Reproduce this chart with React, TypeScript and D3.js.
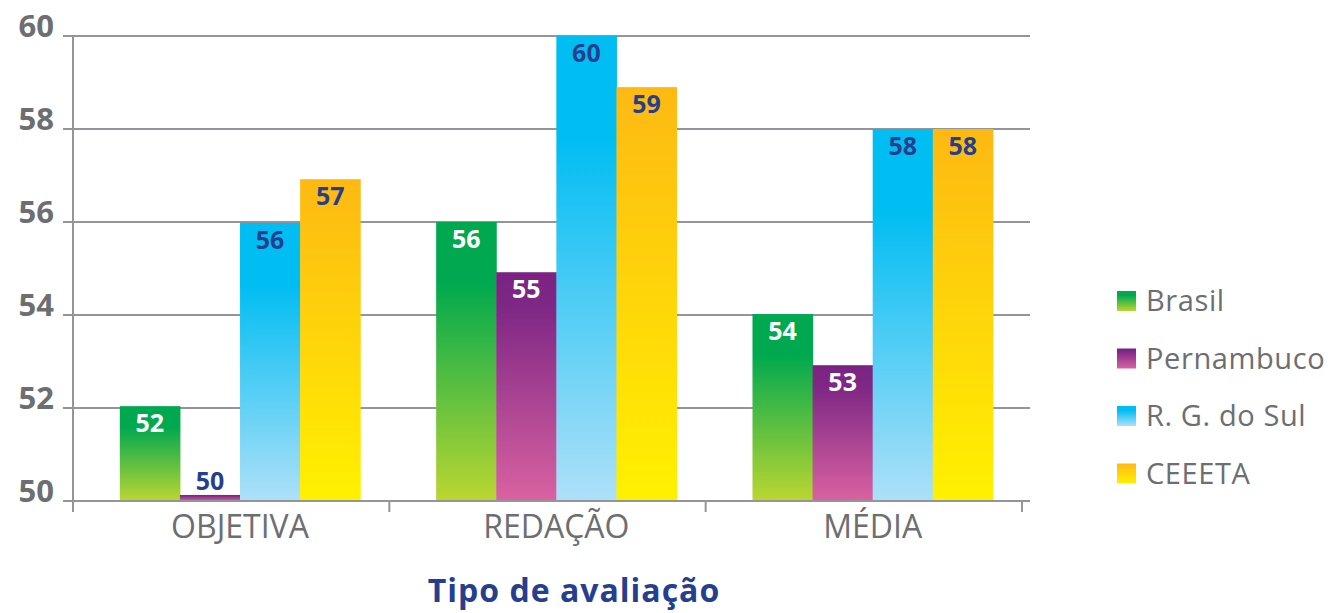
import React from "react";
import * as d3 from "d3";

const categories = ["OBJETIVA", "REDAÇÃO", "MÉDIA"];
const seriesNames = ["Brasil", "Pernambuco", "R. G. do Sul", "CEEETA"];
const brasil = [52.04, 56.0, 54.02];
const pernambuco = [50.13, 54.92, 52.92];
const rgSul = [55.98, 60.0, 58.0];
const ceeeta = [56.92, 58.9, 58.0];
const seriesValues = [brasil, pernambuco, rgSul, ceeeta];
const yTicks = [50, 52, 54, 56, 58, 60];
const axisTitle = "Tipo de avaliação";

const gradients = [
  { id: "g-brasil", stops: [["0%", "#00a94f"], ["22%", "#00a94f"], ["100%", "#bcd631"]] },
  { id: "g-pern", stops: [["0%", "#7a2382"], ["15%", "#7e2785"], ["100%", "#d962a1"]] },
  { id: "g-rgs", stops: [["0%", "#00bdf2"], ["22%", "#00bdf2"], ["100%", "#aee0f8"]] },
  { id: "g-ceeeta", stops: [["0%", "#fdb913"], ["100%", "#fff100"]] },
];
const labelColors = ["#ffffff", "#ffffff", "#253f8e", "#253f8e"];

const W = 1335;
const H = 613;
const plotLeft = 73;
const plotRight = 1022;
const yTop = 36;
const yBottom = 501;
const font = "'Open Sans', sans-serif";
const gray = "#6d6e71";
const lineGray = "#939598";
const blue = "#253f8e";

export default function App() {
  const y = d3.scaleLinear().domain([50, 60]).range([yBottom, yTop]);
  const x0 = d3.scaleBand<string>().domain(categories).range([plotLeft, plotRight]).padding(0);
  const bw = x0.bandwidth();
  const x1 = d3
    .scaleBand<string>()
    .domain(seriesNames)
    .range([bw * 0.148, bw * 0.908])
    .padding(0);
  const fmt = d3.format(".0f");

  return (
    <svg
      width={W}
      height={H}
      style={{ position: "absolute", left: 0, top: 0, background: "#fff" }}
    >
      <defs>
        {gradients.map((g) => (
          <linearGradient key={g.id} id={g.id} x1="0" y1="0" x2="0" y2="1">
            {g.stops.map(([o, c], i) => (
              <stop key={i} offset={o} stopColor={c} />
            ))}
          </linearGradient>
        ))}
      </defs>

      {/* grid lines */}
      {yTicks.map((t) => (
        <line
          key={t}
          x1={63}
          x2={1030}
          y1={y(t)}
          y2={y(t)}
          stroke={lineGray}
          strokeWidth={2}
        />
      ))}
      {/* y tick labels */}
      {yTicks.map((t) => (
        <text
          key={"l" + t}
          x={54}
          y={y(t) + 1}
          textAnchor="end"
          fontFamily={font}
          fontWeight={700}
          fontSize={31}
          fill={gray}
        >
          {t}
        </text>
      ))}

      {/* bars */}
      {categories.map((c, ci) => (
        <g key={c} transform={`translate(${x0(c)},0)`}>
          {seriesNames.map((s, si) => {
            const v = seriesValues[si][ci];
            const bx = x1(s)!;
            const by = y(v);
            const bh = yBottom - by;
            const inside = bh > 30;
            return (
              <g key={s}>
                <rect
                  x={bx}
                  y={by}
                  width={x1.bandwidth() + 0.5}
                  height={bh}
                  fill={`url(#${gradients[si].id})`}
                />
                <text
                  x={bx + x1.bandwidth() / 2}
                  y={inside ? by + 26 : by - 5}
                  textAnchor="middle"
                  fontFamily={font}
                  fontWeight={700}
                  fontSize={25}
                  fill={inside ? labelColors[si] : blue}
                >
                  {fmt(v)}
                </text>
              </g>
            );
          })}
          <text
            x={(x1.range()[0] + x1.range()[1]) / 2}
            y={538}
            textAnchor="middle"
            fontFamily={font}
            fontSize={32}
            fill={gray}
          >
            {c}
          </text>
        </g>
      ))}

      {/* axes */}
      <line x1={plotLeft} x2={plotLeft} y1={yTop} y2={512} stroke={lineGray} strokeWidth={2} />
      <line x1={63} x2={1028} y1={yBottom} y2={yBottom} stroke={lineGray} strokeWidth={2} />
      {[...categories.map((c) => x0(c)!), plotRight].map((tx, i) => (
        <line key={i} x1={tx} x2={tx} y1={yBottom} y2={512} stroke={lineGray} strokeWidth={2} />
      ))}

      {/* axis title */}
      <text
        x={574}
        y={602}
        textAnchor="middle"
        fontFamily={font}
        fontWeight={700}
        fontSize={32}
        letterSpacing={1}
        fill={blue}
      >
        {axisTitle}
      </text>

      {/* legend */}
      {seriesNames.map((s, i) => {
        const cy = 301 + i * 57.5;
        return (
          <g key={s}>
            <rect x={1117} y={cy - 10} width={19} height={20} fill={`url(#${gradients[i].id})`} />
            <text
              x={1146}
              y={cy + 10}
              fontFamily={font}
              fontSize={29}
              letterSpacing={0.6}
              fill={gray}
            >
              {s}
            </text>
          </g>
        );
      })}
    </svg>
  );
}
